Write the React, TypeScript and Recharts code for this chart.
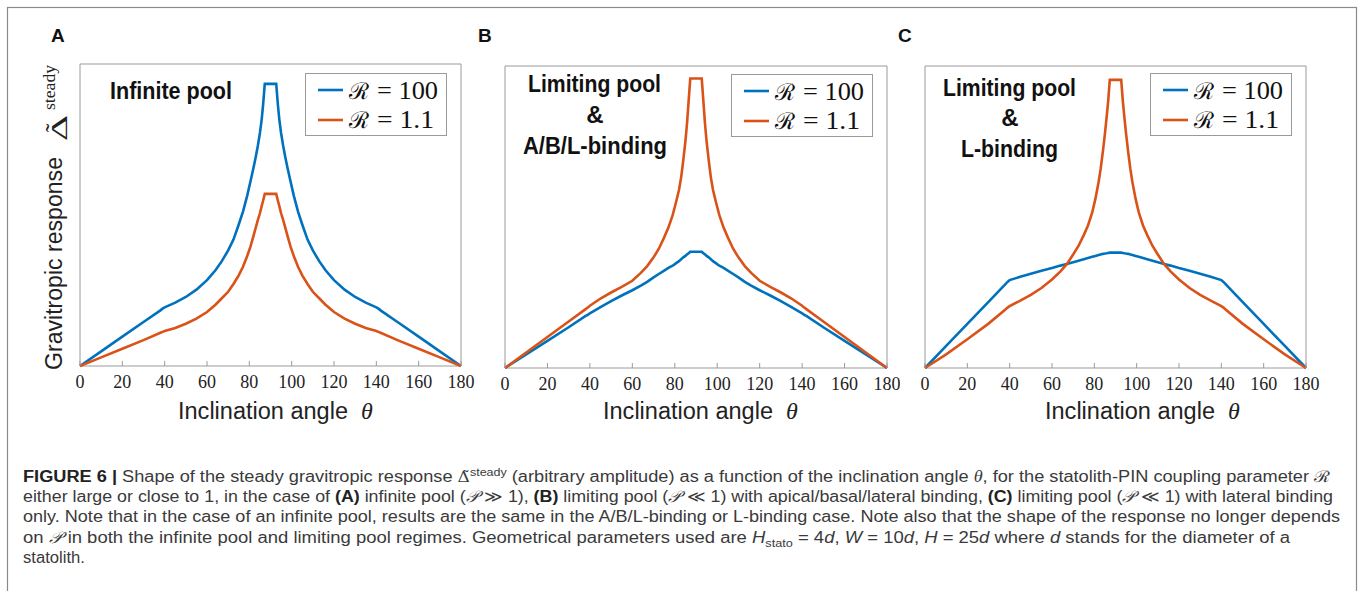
import { LineChart, Line, XAxis, YAxis, ReferenceArea } from "recharts";

// inclination angle samples (degrees)
const theta = [
  0, 10, 20, 30, 38, 39, 40, 45, 50, 55, 60, 64, 67, 70, 72.5, 75, 77, 79, 80.5, 82, 83, 84, 85, 85.8, 86.5, 87.3,
  92.7, 93.5, 94.2, 95, 96, 97, 98, 99.5, 101, 103, 105, 107.5, 110, 113, 116, 120, 125, 130, 135, 140, 141, 142, 150, 160, 170, 180,
];

// (A) infinite pool
const blueA = [
  0, 0.34, 0.68, 1.02, 1.29, 1.33, 1.36, 1.47, 1.6, 1.77, 1.99, 2.22, 2.43, 2.68, 2.93, 3.28, 3.58, 3.95, 4.27, 4.6, 4.84, 5.1, 5.4, 5.7, 6.05, 6.54,
  6.54, 6.05, 5.7, 5.4, 5.1, 4.84, 4.6, 4.27, 3.95, 3.58, 3.28, 2.93, 2.68, 2.43, 2.22, 1.99, 1.77, 1.6, 1.47, 1.36, 1.33, 1.29, 1.02, 0.68, 0.34, 0,
];
const orangeA = [
  0, 0.2, 0.4, 0.6, 0.77, 0.79, 0.81, 0.88, 0.98, 1.1, 1.25, 1.42, 1.57, 1.72, 1.9, 2.1, 2.3, 2.55, 2.76, 3.02, 3.2, 3.38, 3.54, 3.7, 3.83, 3.99,
  3.99, 3.83, 3.7, 3.54, 3.38, 3.2, 3.02, 2.76, 2.55, 2.3, 2.1, 1.9, 1.72, 1.57, 1.42, 1.25, 1.1, 0.98, 0.88, 0.81, 0.79, 0.77, 0.6, 0.4, 0.2, 0,
];

// (B) limiting pool, A/B/L-binding
const blueB = [
  0, 0.36, 0.72, 1.08, 1.38, 1.41, 1.45, 1.61, 1.77, 1.92, 2.06, 2.18, 2.28, 2.4, 2.49, 2.58, 2.65, 2.71, 2.77, 2.83, 2.88, 2.93, 2.97, 3.01, 3.04, 3.08,
  3.08, 3.04, 3.01, 2.97, 2.93, 2.88, 2.83, 2.77, 2.71, 2.65, 2.58, 2.49, 2.4, 2.28, 2.18, 2.06, 1.92, 1.77, 1.61, 1.45, 1.41, 1.38, 1.08, 0.72, 0.36, 0,
];
const orangeB = [
  0, 0.41, 0.82, 1.23, 1.56, 1.6, 1.65, 1.84, 2.0, 2.15, 2.31, 2.52, 2.7, 2.93, 3.16, 3.46, 3.72, 4.05, 4.37, 4.72, 5.05, 5.5, 6.0, 6.5, 7.05, 7.67,
  7.67, 7.05, 6.5, 6.0, 5.5, 5.05, 4.72, 4.37, 4.05, 3.72, 3.46, 3.16, 2.93, 2.7, 2.52, 2.31, 2.15, 2.0, 1.84, 1.65, 1.6, 1.56, 1.23, 0.82, 0.41, 0,
];

// (C) limiting pool, L-binding
const blueC = [
  0, 0.73, 1.46, 2.19, 2.78, 2.85, 2.91, 3.02, 3.12, 3.22, 3.31, 3.39, 3.44, 3.5, 3.55, 3.6, 3.64, 3.68, 3.71, 3.74, 3.76, 3.78, 3.79, 3.8, 3.81, 3.82,
  3.82, 3.81, 3.8, 3.79, 3.78, 3.76, 3.74, 3.71, 3.68, 3.64, 3.6, 3.55, 3.5, 3.44, 3.39, 3.31, 3.22, 3.12, 3.02, 2.91, 2.85, 2.78, 2.19, 1.46, 0.73, 0,
];
const orangeC = [
  0, 0.45, 0.95, 1.47, 1.94, 2.0, 2.05, 2.23, 2.42, 2.65, 2.93, 3.2, 3.44, 3.76, 4.04, 4.4, 4.72, 5.15, 5.6, 6.15, 6.6, 7.15, 7.75, 8.3, 8.8, 9.54,
  9.54, 8.8, 8.3, 7.75, 7.15, 6.6, 6.15, 5.6, 5.15, 4.72, 4.4, 4.04, 3.76, 3.44, 3.2, 2.93, 2.65, 2.42, 2.23, 2.05, 2.0, 1.94, 1.47, 0.95, 0.45, 0,
];

const xTicks = [0, 20, 40, 60, 80, 100, 120, 140, 160, 180];
const legendLabels = ["= 100", "= 1.1"];

const BLUE = "#0072BD";
const ORANGE = "#D95319";
const FRAME = "#9a9a9a";
const SANS = "'Liberation Sans', Arial, sans-serif";
const NARROW = "'Liberation Sans Narrow', 'Liberation Sans', Arial, sans-serif";
const SERIF = "'Liberation Serif', 'Times New Roman', serif";

interface PanelProps {
  blue: number[];
  orange: number[];
  yMax: number;
  left: number;
  width: number;
  margin: { top: number; right: number; bottom: number; left: number };
}

const Panel = ({ blue, orange, yMax, left, width, margin }: PanelProps) => {
  const data = theta.map((t, i) => ({ theta: t, blue: blue[i], orange: orange[i] }));
  const yTicks = Array.from({ length: yMax + 1 }, (_, i) => i);
  return (
    <div style={{ position: "absolute", left, top: 0 }}>
      <LineChart width={width} height={440} data={data} margin={margin}>
        <ReferenceArea x1={0} x2={180} y1={0} y2={yMax} fill="none" fillOpacity={0} stroke={FRAME} strokeWidth={1} />
        <XAxis
          dataKey="theta"
          type="number"
          domain={[0, 180]}
          ticks={xTicks}
          interval={0}
          tickSize={-5}
          tickMargin={14}
          height={50}
          axisLine={false}
          tickLine={{ stroke: FRAME }}
          tick={{ fill: "#222", fontSize: 18, fontFamily: SERIF }}
        />
        <YAxis
          type="number"
          domain={[0, yMax]}
          ticks={yTicks}
          interval={0}
          tick={false}
          tickSize={-5}
          width={0}
          axisLine={false}
          tickLine={{ stroke: FRAME }}
        />
        <Line type="linear" dataKey="blue" stroke={BLUE} strokeWidth={2.6} dot={false} isAnimationActive={false} />
        <Line type="linear" dataKey="orange" stroke={ORANGE} strokeWidth={2.6} dot={false} isAnimationActive={false} />
      </LineChart>
    </div>
  );
};

const LegendBox = ({ x, y }: { x: number; y: number }) => (
  <g>
    <rect x={x + 0.5} y={y + 0.5} width={141} height={62} fill="#fff" stroke={FRAME} />
    {[BLUE, ORANGE].map((c, i) => (
      <g key={c}>
        <line x1={x + 13} x2={x + 38} y1={y + 17 + i * 30} y2={y + 17 + i * 30} stroke={c} strokeWidth={2.6} />
        <text x={x + 44} y={y + 26 + i * 29} fontFamily="'DejaVu Serif', serif" fontSize={23} fill="#111">ℛ</text>
        <text x={x + 72} y={y + 26 + i * 29} fontFamily={SERIF} fontSize={25} fill="#111"
          textLength={i === 0 ? 61 : 57} lengthAdjust="spacingAndGlyphs">{legendLabels[i]}</text>
      </g>
    ))}
  </g>
);

const XTitle = ({ x }: { x: number }) => (
  <g>
    <text x={x} y={419} fontFamily={SANS} fontSize={23} fill="#222" textLength={170} lengthAdjust="spacingAndGlyphs">
      Inclination angle
    </text>
    <text x={x + 183} y={419} fontFamily={SERIF} fontStyle="italic" fontSize={24} fill="#222">θ</text>
  </g>
);

const Bold = ({ x, y, len, children, anchor }: { x: number; y: number; len?: number; children: string; anchor?: string }) => (
  <text x={x} y={y} fontFamily={NARROW} fontWeight="bold" fontSize={24} fill="#111" textAnchor={anchor}
    textLength={len} lengthAdjust={len ? "spacingAndGlyphs" : undefined}>
    {children}
  </text>
);

const P = () => <tspan fontFamily="'DejaVu Sans', serif" fontStyle="italic">𝒫</tspan>;

export default function App() {
  return (
    <div style={{ position: "absolute", left: 0, top: 0, width: 1360, height: 591, background: "#fff", overflow: "hidden" }}>
      <Panel blue={blueA} orange={orangeA} yMax={7} left={0} width={480} margin={{ top: 64, right: 19, left: 80, bottom: 24 }} />
      <Panel blue={blueB} orange={orangeB} yMax={8} left={480} width={420} margin={{ top: 66, right: 13, left: 25, bottom: 22 }} />
      <Panel blue={blueC} orange={orangeC} yMax={10} left={900} width={440} margin={{ top: 66, right: 34, left: 25, bottom: 22 }} />

      <svg width={1360} height={591} style={{ position: "absolute", left: 0, top: 0, pointerEvents: "none" }}>
        <rect x={7.5} y={7.5} width={1349} height={700} fill="none" stroke="#8a8a8a" strokeWidth={1.2} />

        <text x={51} y={42} fontFamily={SANS} fontWeight="bold" fontSize={19} fill="#111">A</text>
        <text x={478} y={42} fontFamily={SANS} fontWeight="bold" fontSize={19} fill="#111">B</text>
        <text x={898} y={42} fontFamily={SANS} fontWeight="bold" fontSize={19} fill="#111">C</text>

        <Bold x={110} y={99} len={122}>Infinite pool</Bold>
        <Bold x={528} y={92} len={133}>Limiting pool</Bold>
        <Bold x={595} y={123} anchor="middle">&amp;</Bold>
        <Bold x={523} y={154} len={144}>A/B/L-binding</Bold>
        <Bold x={943} y={96} len={133}>Limiting pool</Bold>
        <Bold x={1010} y={126} anchor="middle">&amp;</Bold>
        <Bold x={961} y={157} len={97}>L-binding</Bold>

        <LegendBox x={305} y={73} />
        <LegendBox x={731} y={74} />
        <LegendBox x={1150} y={73} />

        <XTitle x={178} />
        <XTitle x={603} />
        <XTitle x={1045} />

        <g transform="translate(62,370) rotate(-90)">
          <text x={0} y={0} fontFamily={SANS} fontSize={23} fill="#222" textLength={213} lengthAdjust="spacingAndGlyphs">
            Gravitropic response
          </text>
          <text x={229} y={5} fontFamily={SERIF} fontSize={24} fill="#222" textLength={26} lengthAdjust="spacingAndGlyphs">Δ</text>
          <text x={242} y={1} fontFamily={SERIF} fontSize={26} fill="#222" textAnchor="middle">˜</text>
          <text x={260} y={-7} fontFamily={SERIF} fontSize={17} fill="#222" textLength={45} lengthAdjust="spacingAndGlyphs">steady</text>
        </g>

        <g fontFamily={SANS} fontSize={16} fill="#3a3a3a" style={{ whiteSpace: "pre" }}>
          <text x={23} y={482} textLength={1307} lengthAdjust="spacingAndGlyphs">
            <tspan fontWeight="bold" fill="#222">FIGURE 6 | </tspan>
            <tspan>Shape of the steady gravitropic response </tspan>
            <tspan fontFamily="'DejaVu Serif', serif" fontSize={15}>{"Δ\u0303"}</tspan>
            <tspan fontSize={11} dy={-6}>steady</tspan>
            <tspan dy={6}> (arbitrary amplitude) as a function of the inclination angle </tspan>
            <tspan fontFamily={SERIF} fontStyle="italic">θ</tspan>
            <tspan>, for  the statolith-PIN coupling parameter </tspan>
            <tspan fontFamily="'DejaVu Serif', serif">ℛ</tspan>
          </text>
          <text x={23} y={502} textLength={1310} lengthAdjust="spacingAndGlyphs">
            <tspan>either large or close to 1, in the case of </tspan>
            <tspan fontWeight="bold" fill="#222">(A)</tspan>
            <tspan> infinite pool (</tspan><P /><tspan> ≫ 1), </tspan>
            <tspan fontWeight="bold" fill="#222">(B)</tspan>
            <tspan> limiting pool (</tspan><P /><tspan> ≪ 1) with apical/basal/lateral binding, </tspan>
            <tspan fontWeight="bold" fill="#222">(C)</tspan>
            <tspan> limiting pool (</tspan><P /><tspan> ≪ 1) with lateral binding</tspan>
          </text>
          <text x={23} y={522} textLength={1317} lengthAdjust="spacingAndGlyphs">
            only. Note that in the case of an infinite pool, results are the same in the A/B/L-binding or L-binding case.  Note also that the shape of the response no longer depends
          </text>
          <text x={23} y={542.5} textLength={1267} lengthAdjust="spacingAndGlyphs">
            <tspan>on </tspan><P />
            <tspan> in both the infinite pool and limiting pool regimes. Geometrical parameters used are  </tspan>
            <tspan fontStyle="italic">H</tspan>
            <tspan fontSize={11} dy={4}>stato</tspan>
            <tspan dy={-4}> = 4</tspan><tspan fontStyle="italic">d</tspan>
            <tspan>, </tspan><tspan fontStyle="italic">W</tspan>
            <tspan> = 10</tspan><tspan fontStyle="italic">d</tspan>
            <tspan>, </tspan><tspan fontStyle="italic">H</tspan>
            <tspan> = 25</tspan><tspan fontStyle="italic">d</tspan>
            <tspan> where </tspan><tspan fontStyle="italic">d</tspan>
            <tspan> stands for the diameter of a</tspan>
          </text>
          <text x={23} y={563} textLength={62} lengthAdjust="spacingAndGlyphs">statolith.</text>
        </g>
      </svg>
    </div>
  );
}
